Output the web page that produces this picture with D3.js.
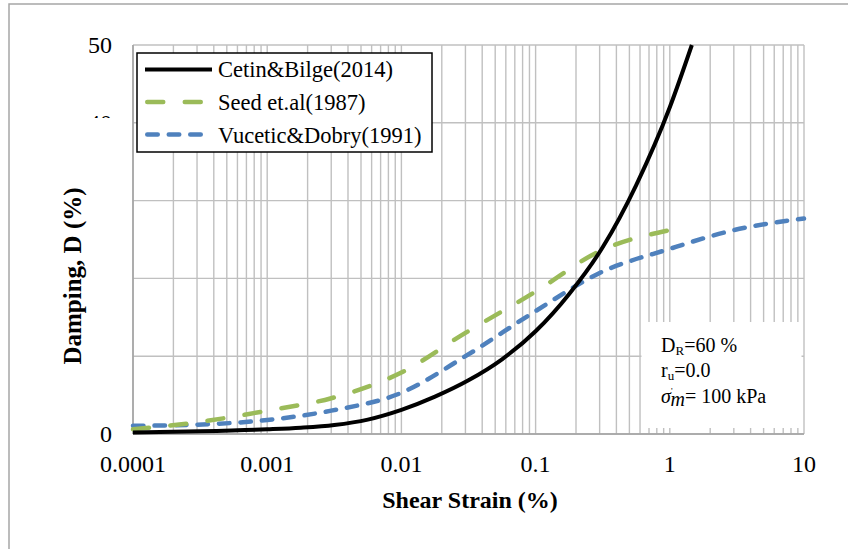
<!DOCTYPE html>
<html><head><meta charset="utf-8">
<script src="https://cdn.jsdelivr.net/npm/d3@7"></script>
<style>body{margin:0;background:#fff}</style>
</head><body><svg id="c" width="848" height="549"></svg>
<script>
// ---- data ----
const cetinStrain = [0.0001,0.000316,0.001,0.00178,0.00316,0.00562,0.01,0.0178,0.0316,0.0562,0.1,0.178,0.316,0.562,1.0,1.46];
const cetinD      = [0.2,0.35,0.6,0.8,1.15,1.85,3.1,4.8,6.9,9.6,13.2,18.0,24.0,32.0,42.0,50];
const seedStrain  = [0.0001,0.0003,0.001,0.003,0.01,0.03,0.1,0.3,1.0];
const seedD       = [0.6,1.5,3.0,4.6,7.9,13.0,18.3,23.5,26.2];
const vuceticStrain = [0.0001,0.0003,0.001,0.003,0.01,0.03,0.1,0.3,1.0,3.0,10];
const vuceticD      = [1.05,1.2,1.8,3.0,5.3,10.0,15.8,20.7,23.8,26.2,27.7];
const xTickValues = [0.0001,0.001,0.01,0.1,1,10];
const xTickLabels = ["0.0001","0.001","0.01","0.1","1","10"];
const yTickValues = [0,10,20,30,40,50];
const yTickLabels = ["0","10","20","30","40","50"];
const seriesNames = ["Cetin&Bilge(2014)","Seed et.al(1987)","Vucetic&Dobry(1991)"];

// ---- layout ----
const svg = d3.select("#c");
const FONT = "'Liberation Serif','Times New Roman',serif";
const L = 133, R = 804, T = 45, B = 434;
const x = d3.scaleLog().domain([0.0001, 10]).range([L, R]);
const y = d3.scaleLinear().domain([0, 50]).range([B, T]);

// outer frame
svg.append("rect").attr("x",9).attr("y",4).attr("width",900).attr("height",700)
  .attr("fill","#fff").attr("stroke","#a6a6a6").attr("stroke-width",1.5);

// grid
const minor = [];
for (let e = -4; e < 1; e++) for (let k = 1; k <= 9; k++) minor.push(k * Math.pow(10, e));
minor.push(10);
const g = svg.append("g");
g.selectAll("line.v").data(minor).enter().append("line")
  .attr("x1", d => x(d)).attr("x2", d => x(d)).attr("y1", T).attr("y2", B)
  .attr("stroke","#c0c0c0").attr("stroke-width",1.4);
g.selectAll("line.h").data(yTickValues).enter().append("line")
  .attr("x1", L).attr("x2", R).attr("y1", d => y(d)).attr("y2", d => y(d))
  .attr("stroke","#c0c0c0").attr("stroke-width",1.4);
// axis lines
svg.append("line").attr("x1",L).attr("x2",L).attr("y1",T).attr("y2",B).attr("stroke","#a0a0a0").attr("stroke-width",1.5);
svg.append("line").attr("x1",L).attr("x2",R).attr("y1",B).attr("y2",B).attr("stroke","#a0a0a0").attr("stroke-width",1.5);

// annotation box (covers grid)
svg.append("rect").attr("x",641.5).attr("y",322).attr("width",160).attr("height",106).attr("fill","#fff");

// y tick labels
svg.selectAll("text.yt").data(yTickValues).enter().append("text")
  .attr("x",112).attr("y", d => y(d)+8).attr("text-anchor","end")
  .attr("font-family",FONT).attr("font-size",24).attr("fill","#000")
  .text((d,i) => yTickLabels[i]);
// white area hiding the middle tick labels
svg.append("rect").attr("x",40).attr("y",118).attr("width",88).attr("height",302).attr("fill","#fff");

// x tick labels
svg.selectAll("text.xt").data(xTickValues).enter().append("text")
  .attr("x", d => x(d)).attr("y",472).attr("text-anchor","middle")
  .attr("font-family",FONT).attr("font-size",24).attr("fill","#000")
  .text((d,i) => xTickLabels[i]);

// axis titles
svg.append("text").attr("x",470).attr("y",508).attr("text-anchor","middle")
  .attr("font-family",FONT).attr("font-size",24).attr("font-weight","bold").text("Shear Strain (%)");
svg.append("text").attr("transform","translate(81,276) rotate(-90)").attr("text-anchor","middle")
  .attr("font-family",FONT).attr("font-size",25).attr("font-weight","bold").text("Damping, D (%)");

// curves
const line = d3.line().x(d => x(d[0])).y(d => y(d[1])).curve(d3.curveMonotoneX);
const styles = [
  {color:"#000000", width:4, dash:null, cap:"butt"},
  {color:"#9BBB59", width:4.5, dash:"16,21.5", cap:"round"},
  {color:"#4F81BD", width:4.5, dash:"10.5,11", cap:"round"}
];
const series = [
  d3.zip(cetinStrain, cetinD),
  d3.zip(seedStrain, seedD),
  d3.zip(vuceticStrain, vuceticD)
];
[2,1,0].forEach(i => {
  svg.append("path").attr("d", line(series[i])).attr("fill","none")
    .attr("stroke", styles[i].color).attr("stroke-width", styles[i].width)
    .attr("stroke-linecap", styles[i].cap)
    .attr("stroke-dasharray", styles[i].dash);
});

// legend
svg.append("rect").attr("x",137).attr("y",53).attr("width",295).attr("height",99)
  .attr("fill","#fff").attr("stroke","#000").attr("stroke-width",1.5);
const ly = [69.5, 102, 134.5], ty = [77, 110, 143];
const lx1 = [145, 147.25, 147.25], lx2 = [212, 201.75, 201.75];
seriesNames.forEach((n,i) => {
  svg.append("line").attr("x1",lx1[i]).attr("x2",lx2[i]).attr("y1",ly[i]).attr("y2",ly[i])
    .attr("stroke", styles[i].color).attr("stroke-width", styles[i].width)
    .attr("stroke-linecap", styles[i].cap).attr("stroke-dasharray", styles[i].dash);
  svg.append("text").attr("x",218).attr("y",ty[i]).attr("font-family",FONT).attr("font-size",22.5).text(n);
});

// annotation text
const ann = svg.append("g").attr("font-family",FONT).attr("font-size",20).attr("fill","#000");
const t1 = ann.append("text").attr("x",661).attr("y",352);
t1.append("tspan").text("D");
t1.append("tspan").attr("font-size",13).attr("dy",3).text("R");
t1.append("tspan").attr("dy",-3).text("=60 %");
const t2 = ann.append("text").attr("x",661).attr("y",377);
t2.append("tspan").text("r");
t2.append("tspan").attr("font-size",13).attr("dy",3).text("u");
t2.append("tspan").attr("dy",-3).text("=0.0");
const t3 = ann.append("text").attr("x",661).attr("y",403);
t3.append("tspan").attr("font-style","italic").text("σ");
t3.append("tspan").attr("font-size",9).attr("dy",-9).attr("dx",0).text("'");
t3.append("tspan").attr("font-style","italic").attr("dy",12).attr("dx",-2).text("m");
t3.append("tspan").attr("dy",-3).text("= 100 kPa");
</script>
</body></html>
